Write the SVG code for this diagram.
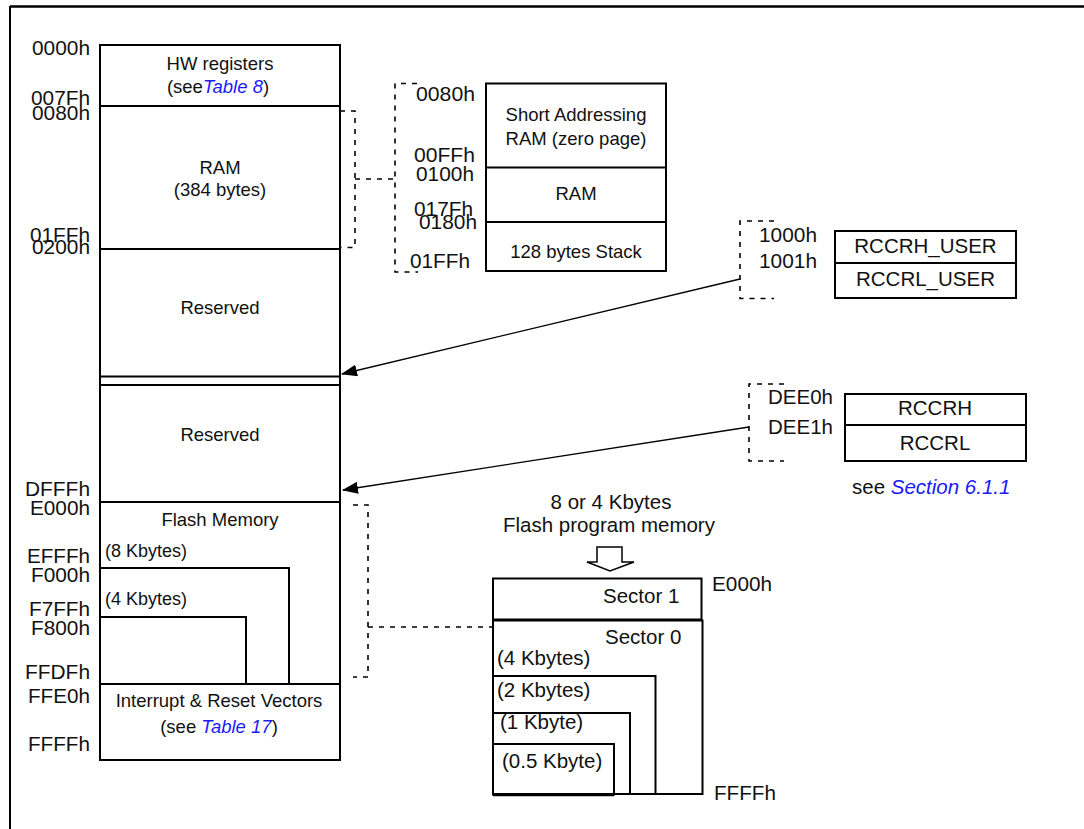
<svg xmlns="http://www.w3.org/2000/svg" width="1084" height="829" viewBox="0 0 1084 829">
<style>
text{font-family:"Liberation Sans",Arial,sans-serif;fill:#111}
.t{font-size:18.5px;text-anchor:middle}
.l{font-size:18px}
.a{font-size:20px}
.r{text-anchor:end}
.b{font-size:20.5px}
.bc{font-size:20.5px;text-anchor:middle}
.lnk{fill:#1a1aff;font-style:italic}
.box{fill:none;stroke:#000;stroke-width:2}
.ln{stroke:#000;stroke-width:2}
.dash{fill:none;stroke:#000;stroke-width:1.6;stroke-dasharray:5 6}
.arr{fill:none;stroke:#000;stroke-width:1.3}
</style>
<defs>
<marker id="ah" markerUnits="userSpaceOnUse" markerWidth="16" markerHeight="12" refX="15" refY="6" orient="auto">
<path d="M0,0 L16,6 L0,12 z" fill="#000"/>
</marker>
</defs>
<rect width="1084" height="829" fill="#fff"/>
<g id="frame">
<line x1="10" y1="6.5" x2="1084" y2="6.5" stroke="#000" stroke-width="2.5"/>
<line x1="10" y1="6" x2="10" y2="829" stroke="#000" stroke-width="2"/>
</g>

<g id="memory-map">
<rect class="box" x="100" y="45" width="240" height="715"/>
<g id="hw-registers">
<text class="t" x="220" y="70">HW registers</text>
<text class="t" x="218" y="93">(see<tspan class="lnk">Table 8</tspan>)</text>
</g>
<line class="ln" x1="100" y1="106" x2="340" y2="106"/>
<g id="ram">
<text class="t" x="220" y="174">RAM</text>
<text class="t" x="220" y="196">(384 bytes)</text>
</g>
<line class="ln" x1="100" y1="249" x2="340" y2="249"/>
<g id="reserved-1">
<text class="t" x="220" y="314">Reserved</text>
</g>
<line class="ln" x1="100" y1="376.5" x2="340" y2="376.5"/>
<line class="ln" x1="100" y1="385" x2="340" y2="385"/>
<g id="reserved-2">
<text class="t" x="220" y="441">Reserved</text>
</g>
<line class="ln" x1="100" y1="502" x2="340" y2="502"/>
<g id="flash-memory">
<text class="t" x="220" y="526">Flash Memory</text>
<text class="l" x="105" y="557">(8 Kbytes)</text>
<polyline class="box" points="100,568 289,568 289,684"/>
<text class="l" x="105" y="605">(4 Kbytes)</text>
<polyline class="box" points="100,617 246,617 246,684"/>
</g>
<line class="ln" x1="100" y1="684" x2="340" y2="684"/>
<g id="vectors">
<text class="t" x="219" y="707">Interrupt &amp; Reset Vectors</text>
<text class="t" x="219" y="733">(see <tspan class="lnk">Table 17</tspan>)</text>
</g>
<g id="map-addresses">
<text class="a r" x="90" y="55" textLength="58" lengthAdjust="spacingAndGlyphs">0000h</text>
<text class="a r" x="90" y="105" textLength="59" lengthAdjust="spacingAndGlyphs">007Fh</text>
<text class="a r" x="90" y="120" textLength="58" lengthAdjust="spacingAndGlyphs">0080h</text>
<text class="a r" x="90" y="242" textLength="60" lengthAdjust="spacingAndGlyphs">01FFh</text>
<text class="a r" x="90" y="254" textLength="58" lengthAdjust="spacingAndGlyphs">0200h</text>
<text class="a r" x="90" y="496" textLength="65" lengthAdjust="spacingAndGlyphs">DFFFh</text>
<text class="a r" x="90" y="515" textLength="60" lengthAdjust="spacingAndGlyphs">E000h</text>
<text class="a r" x="90" y="563" textLength="63" lengthAdjust="spacingAndGlyphs">EFFFh</text>
<text class="a r" x="90" y="582" textLength="59" lengthAdjust="spacingAndGlyphs">F000h</text>
<text class="a r" x="90" y="616" textLength="61" lengthAdjust="spacingAndGlyphs">F7FFh</text>
<text class="a r" x="90" y="635" textLength="59" lengthAdjust="spacingAndGlyphs">F800h</text>
<text class="a r" x="90" y="679" textLength="65" lengthAdjust="spacingAndGlyphs">FFDFh</text>
<text class="a r" x="90" y="703" textLength="62" lengthAdjust="spacingAndGlyphs">FFE0h</text>
<text class="a r" x="90" y="751" textLength="62" lengthAdjust="spacingAndGlyphs">FFFFh</text>
</g>
</g>

<g id="zero-page">
<rect class="box" x="486" y="83.5" width="180" height="187.5"/>
<line class="ln" x1="486" y1="167.5" x2="666" y2="167.5"/>
<line class="ln" x1="486" y1="222" x2="666" y2="222"/>
<text class="t" x="576" y="121">Short Addressing</text>
<text class="t" x="576" y="145">RAM (zero page)</text>
<text class="t" x="576" y="200">RAM</text>
<text class="t" x="576" y="258">128 bytes Stack</text>
<text class="a" x="416" y="101" textLength="59" lengthAdjust="spacingAndGlyphs">0080h</text>
<text class="a" x="414" y="162" textLength="61" lengthAdjust="spacingAndGlyphs">00FFh</text>
<text class="a" x="416" y="181" textLength="58" lengthAdjust="spacingAndGlyphs">0100h</text>
<text class="a" x="414" y="216" textLength="59" lengthAdjust="spacingAndGlyphs">017Fh</text>
<text class="a" x="419" y="229" textLength="58" lengthAdjust="spacingAndGlyphs">0180h</text>
<text class="a" x="410" y="268" textLength="60" lengthAdjust="spacingAndGlyphs">01FFh</text>
</g>

<g id="rccr-user">
<rect class="box" x="835" y="231" width="181" height="67"/>
<line class="ln" x1="835" y1="263" x2="1016" y2="263"/>
<text class="bc" x="925.5" y="253">RCCRH_USER</text>
<text class="bc" x="925.5" y="286">RCCRL_USER</text>
<text class="b" x="759" y="242" textLength="58" lengthAdjust="spacingAndGlyphs">1000h</text>
<text class="b" x="759" y="268" textLength="58" lengthAdjust="spacingAndGlyphs">1001h</text>
</g>

<g id="rccr">
<rect class="box" x="845" y="394" width="181" height="67"/>
<line class="ln" x1="845" y1="425" x2="1026" y2="425"/>
<text class="bc" x="935" y="415">RCCRH</text>
<text class="bc" x="935" y="450">RCCRL</text>
<text class="b" x="768" y="404" textLength="65" lengthAdjust="spacingAndGlyphs">DEE0h</text>
<text class="b" x="768" y="434" textLength="65" lengthAdjust="spacingAndGlyphs">DEE1h</text>
<text class="b" x="852" y="494">see <tspan class="lnk">Section 6.1.1</tspan></text>
</g>

<g id="flash-program">
<text class="bc" x="611" y="509">8 or 4 Kbytes</text>
<text class="bc" x="609" y="532">Flash program memory</text>
<polygon points="597,547 622,547 622,562 634,562 610,571 587,562 597,562" fill="#fff" stroke="#000" stroke-width="1.5"/>
<rect class="box" x="493" y="578.5" width="208.5" height="41"/>
<rect class="box" x="493" y="620.5" width="209.5" height="173.5"/>
<polyline class="box" points="493,676 655.5,676 655.5,794"/>
<polyline class="box" points="493,713 630,713 630,794"/>
<rect class="box" x="493" y="744" width="121" height="50.5"/>
<line x1="493" y1="795" x2="614" y2="795" stroke="#000" stroke-width="2.5"/>
<text class="b" x="603" y="603">Sector 1</text>
<text class="b" x="605" y="644">Sector 0</text>
<text class="b" x="497" y="665">(4 Kbytes)</text>
<text class="b" x="497" y="697">(2 Kbytes)</text>
<text class="b" x="500" y="729">(1 Kbyte)</text>
<text class="b" x="502" y="768">(0.5 Kbyte)</text>
<text class="b" x="712" y="591" textLength="60" lengthAdjust="spacingAndGlyphs">E000h</text>
<text class="b" x="714" y="800" textLength="62" lengthAdjust="spacingAndGlyphs">FFFFh</text>
</g>

<g id="connectors">
<polyline class="dash" points="340,111 355,111 355,247.5 340,247.5"/>
<line class="dash" x1="355" y1="179" x2="395" y2="179"/>
<polyline class="dash" points="417,83.5 395,83.5 395,272 418,272"/>
<polyline class="dash" points="774,221 740,221 740,298.5 774,298.5"/>
<polyline class="dash" points="784,384 749,384 749,461 784,461"/>
<polyline class="dash" points="353,505 368,505 368,677 353,677"/>
<line class="dash" x1="368" y1="627" x2="493" y2="627"/>
<line class="arr" x1="740" y1="279" x2="342" y2="374" marker-end="url(#ah)"/>
<line class="arr" x1="749" y1="427" x2="343" y2="490" marker-end="url(#ah)"/>
</g>
</svg>
